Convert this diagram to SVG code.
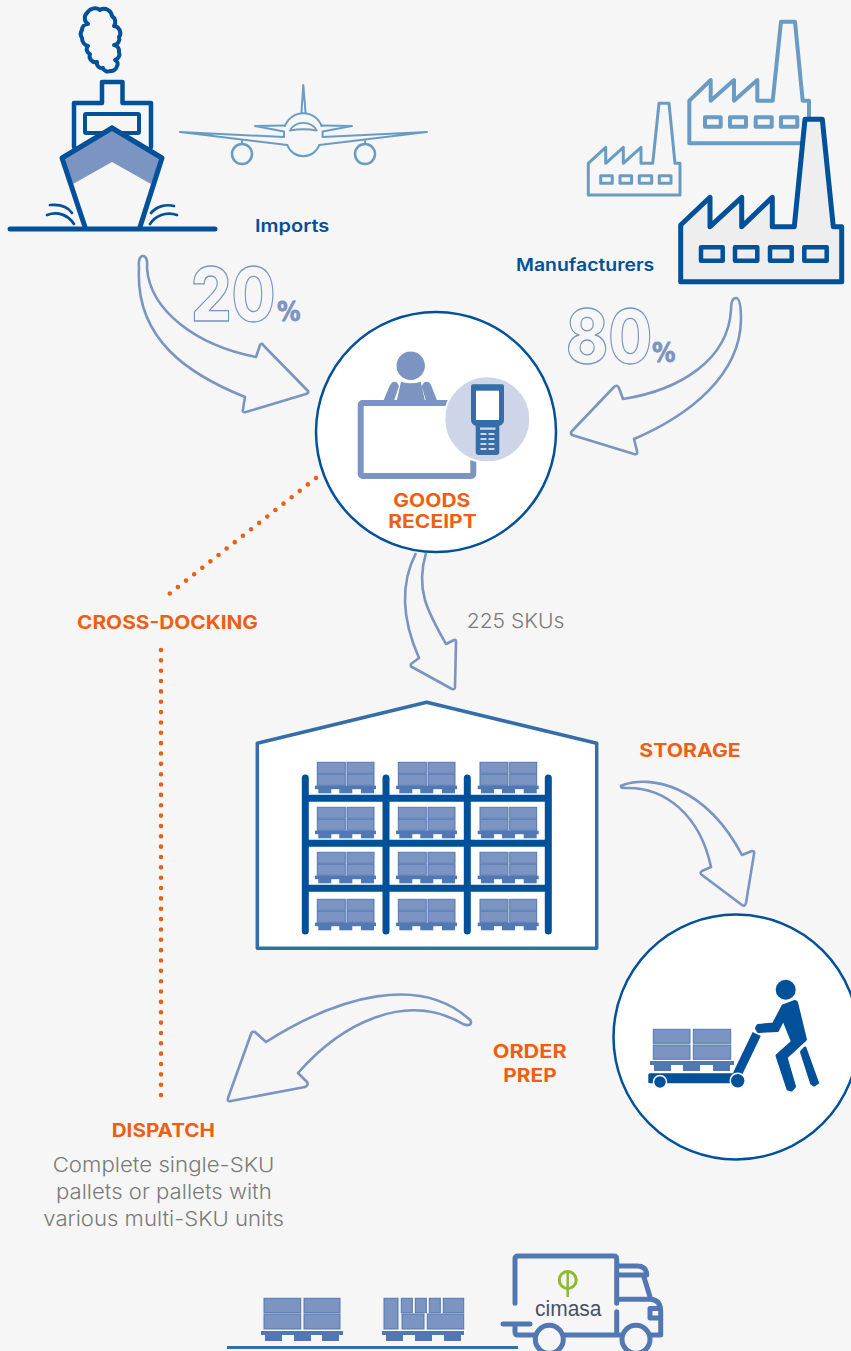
<svg xmlns="http://www.w3.org/2000/svg" xmlns:xlink="http://www.w3.org/1999/xlink" width="851" height="1351" viewBox="0 0 851 1351">
<style>
.dk{fill:none;stroke:#00509a;stroke-linejoin:round;stroke-linecap:round}
.lt{fill:none;stroke:#6a9cc3;stroke-linejoin:round;stroke-linecap:round}
.arrow{fill:none;stroke:#7b94c2;stroke-width:2.6;stroke-linejoin:round}
.dot{fill:none;stroke:#ee5f14;stroke-width:4.6;stroke-linecap:round;stroke-dasharray:0 10.35}
.box{fill:#7b94c2;stroke:#5278b3;stroke-width:1}
.wood{fill:#5278b3}
.tr{fill:none;stroke:#5278b3;stroke-width:5;stroke-linejoin:round;stroke-linecap:round}
text{font-family:Inter,"Liberation Sans",sans-serif}
.or{fill:#ee5f14;font-weight:700;font-size:18.5px}
.bl{fill:#00509a;font-weight:600;font-size:17px}
.gr{fill:#7a7a7a;font-weight:300;font-size:20.5px}
.num{fill:none;stroke:#7b94c2;stroke-width:1.3;font-weight:800;font-size:74px}
.pc{fill:#7b94c2;stroke:#7b94c2;stroke-width:.8;font-weight:700;font-size:27px;font-family:"DejaVu Sans",sans-serif}
</style>
<defs>
<g id="pallet">
<rect class="box" x="0" y="0" width="28" height="11"/><rect class="box" x="29.7" y="0" width="27" height="11"/>
<rect class="box" x="0" y="12" width="28" height="11"/><rect class="box" x="29.7" y="12" width="27" height="11"/>
<rect class="wood" x="-2.3" y="23.3" width="61" height="3.6"/>
<rect class="wood" x="1" y="26.5" width="13" height="4.5"/><rect class="wood" x="22" y="26.5" width="13" height="4.5"/><rect class="wood" x="43.7" y="26.5" width="13" height="4.5"/>
</g>
</defs>
<rect width="851" height="1351" fill="#f6f6f6"/>

<g id="connectors">
<path class="arrow" d="M139 268Q138 256 143 256Q148 256 147 268C150 310 195 345 256 357L260 345Q262 342 264 346L308 391Q309 393 306 394L246 412Q242 413 243 409L245 397C190 375 135 340 139 268Z"/>
<path class="arrow" d="M731 310Q731 298 736 298Q741 298 741 320C740 375 690 415 634 439L637 451Q638 455 634 454L572 435Q570 433 572 431L614 387Q617 384 619 388L623 399C680 390 728 360 731 310Z"/>
<path class="arrow" d="M416 553C402 580 400 615 419 658L411 664Q410 666 412 667L452 689Q455 690 455 687L456 642Q456 639 454 640L446 644C428 612 415 590 426 553"/>
<path class="arrow" d="M623 785C650 775 705 785 742 855L752 851Q755 851 754 854L746 903Q745 907 742 905L702 875Q699 873 702 871L711 867C700 815 665 787 626 788Q620 788 621 786Z"/>
<path class="arrow" d="M469 1019C420 975 340 995 266 1042L255 1032Q252 1031 251 1034L228 1098Q227 1102 231 1101L305 1087Q309 1085 307 1082L298 1073C340 1025 405 990 463 1024Q471 1027 471 1022Q471 1020 469 1019Z"/>
<path class="dot" d="M316 478L164 598"/>
<path class="dot" d="M161 650V1095.500"/>
</g>

<g id="ship">
<path class="dk" stroke-width="4" d="M88 24A7 7 0 0 1 87 13A9 9 0 0 1 100 10A8 8 0 0 1 112 16A7 7 0 0 1 114 26A7 7 0 0 1 119 37A6 6 0 0 1 114 45A6 6 0 0 1 119 52A6 6 0 0 1 115 60A4 4 0 0 1 117 66A6 6 0 0 1 110 71A5 5 0 0 1 103 68A5 5 0 0 1 97 62A6 6 0 0 1 90 54A5 5 0 0 1 88 46A8 8 0 0 1 82 38A7 7 0 0 1 82 30A6 6 0 0 1 88 24Z"/>
<path class="dk" stroke-width="4.5" d="M74 147V103H102V82H122.500V103H151V147"/>
<rect class="dk" stroke-width="4" x="85" y="114" width="54" height="19" rx="1"/>
<path fill="#f6f6f6" d="M112 128L162 158L140 227H85L62 158Z"/>
<path fill="#7b94c2" d="M112 128L162 158L151 184L112 162L73 184L62 158Z"/>
<path class="dk" stroke-width="5" d="M112 128L162 158L140 227M85 227L62 158L112 128"/>
<path class="dk" stroke-width="2.700" d="M50 205C60 204 68 207 72 213M47 215C58 211 68 215 74 224M151 213C157 206 166 204 174 206M150 224C155 216 166 211 177 215"/>
<path class="dk" stroke-width="5" d="M10 229H215"/>
</g>

<g id="plane">
<path class="lt" stroke-width="2" d="M301.500 112L303.300 85L305.500 112M285 126A19.500 19.500 0 0 1 321.600 126M287.300 145A17 17 0 0 0 319.300 145"/>
<path class="lt" stroke-width="2" d="M285 125.500L255 126L284 131.500V137L180 132L287.300 145M321.600 125.500L352 126L322.600 131.500V137L427 132L319.300 145"/>
<path class="lt" stroke-width="1.800" d="M290 130.500A14 11 0 0 1 316.700 130.500Q303.300 128 290 130.500Z"/>
<circle class="lt" stroke-width="2.500" cx="242" cy="154" r="10"/><circle class="lt" stroke-width="2.500" cx="365" cy="154" r="10"/>
<path class="lt" stroke-width="2" d="M242 144V141M365 144V141"/>
</g>

<g id="factories">
<g class="lt" stroke-width="3">
<path d="M588.300 195V163.300L605.700 147.300V163.300L623.300 147.300V163.300L641 147.300V163.300H652.700L659 103.300H669L675 163.300H680V195Z"/>
<rect x="600.700" y="175.700" width="11.600" height="7.600"/><rect x="620" y="175.700" width="11.600" height="7.600"/><rect x="639.300" y="175.700" width="12.400" height="7.600"/><rect x="659.300" y="175.700" width="11.700" height="7.600"/>
</g>
<g class="lt" stroke-width="4">
<path d="M689.300 143.300V100.700L710.700 80V100.700L734 80V100.700L757.300 80V100.700H772.700L781 21.700H795L802.700 100.700H809V143.300Z"/>
<rect x="705" y="117.300" width="15.700" height="9.400"/><rect x="730" y="117.300" width="16" height="9.400"/><rect x="755.700" y="117.300" width="16" height="9.400"/><rect x="781" y="117.300" width="16.300" height="9.400"/>
</g>
<path class="dk" stroke-width="5" style="fill:#eeeeef" d="M680.700 281.700V225L710 197.300V226.700L741.700 197.300V226.700L772.300 197.300V226.700H794.300L805 119.300H822.300L833.300 226.700H841.700V281.700Z"/>
<g class="dk" stroke-width="4.500">
<rect x="701" y="247.300" width="21.700" height="13.400"/><rect x="735" y="247.300" width="22.300" height="13.400"/><rect x="770" y="247.300" width="21.700" height="13.400"/><rect x="804.300" y="247.300" width="22.400" height="13.400"/>
</g>
</g>

<g id="goods-receipt">
<circle cx="436" cy="432" r="120" fill="#fff" stroke="#00509a" stroke-width="2.500"/>
<circle cx="410.700" cy="365.700" r="14.200" fill="#7b94c2"/>
<path fill="#7b94c2" d="M383.300 401L390 385Q393 380 397 382.500L399 386L394 401ZM396.700 401L401 381.700Q411 385 420.700 381.700L425 401ZM426 401L421.700 386L424 382.500Q429 380 431 385L437.300 401Z"/>
<rect x="360.700" y="403" width="112.600" height="73" rx="2" fill="none" stroke="#7b94c2" stroke-width="6"/>
<circle cx="487.300" cy="419.300" r="43" fill="#ced5e8" stroke="#fff" stroke-width="2"/>
<path fill="#356da9" d="M473 384.300H502Q504 384.300 504 386.300V420Q504 424 499.300 426V452Q499.300 455 496.300 455H478.700Q475.700 455 475.700 452V426Q471 424 471 420V386.300Q471 384.300 473 384.300Z"/>
<rect x="476" y="390.700" width="23" height="29.300" fill="#fff"/>
<g fill="#ced5e8"><rect x="480" y="427.500" width="15.500" height="2.300"/><rect x="480.500" y="433" width="6" height="2"/><rect x="488.500" y="433" width="6" height="2"/><rect x="480.500" y="438" width="6" height="2"/><rect x="488.500" y="438" width="6" height="2"/><rect x="480.500" y="443" width="6" height="2"/><rect x="488.500" y="443" width="6" height="2"/><rect x="480.500" y="448" width="6" height="2"/><rect x="488.500" y="448" width="6" height="2"/></g>
<text class="or" x="393.300" y="506.700" textLength="77" lengthAdjust="spacingAndGlyphs">GOODS</text>
<text class="or" x="388.300" y="527.500" textLength="88.400" lengthAdjust="spacingAndGlyphs">RECEIPT</text>
</g>

<g id="warehouse">
<path fill="#fff" stroke="#356da9" stroke-width="3.500" stroke-linejoin="round" d="M257.300 743.300L426.700 702.300L596.700 743.300V948.300H257.300Z"/>
<use href="#pallet" x="317.300" y="762.300"/><use href="#pallet" x="398.300" y="762.300"/><use href="#pallet" x="480" y="762.300"/>
<use href="#pallet" x="317.300" y="807.300"/><use href="#pallet" x="398.300" y="807.300"/><use href="#pallet" x="480" y="807.300"/>
<use href="#pallet" x="317.300" y="852.300"/><use href="#pallet" x="398.300" y="852.300"/><use href="#pallet" x="480" y="852.300"/>
<use href="#pallet" x="317.300" y="899.300"/><use href="#pallet" x="398.300" y="899.300"/><use href="#pallet" x="480" y="899.300"/>
<g stroke="#00509a" fill="none">
<path stroke-width="7" d="M305 798.300H549M305 843.300H549M305 888.300H549"/>
<path stroke-width="7" stroke-linecap="round" d="M305.300 778V931M386 778V931M467.300 778V931M548.300 778V931"/>
</g>
</g>

<g id="order-picker">
<circle cx="736" cy="1037" r="122.500" fill="#fff" stroke="#00509a" stroke-width="2.500"/>
<rect class="box" x="653.300" y="1029.300" width="36.700" height="14"/><rect class="box" x="693.300" y="1029.300" width="37.400" height="14"/>
<rect class="box" x="653.300" y="1045" width="36.700" height="14.300"/><rect class="box" x="693.300" y="1045" width="37.400" height="14.300"/>
<rect class="wood" x="650" y="1061" width="84" height="4"/>
<rect class="wood" x="654" y="1065" width="17" height="6"/><rect class="wood" x="683" y="1065" width="17" height="6"/><rect class="wood" x="713" y="1065" width="17" height="6"/>
<rect x="648.300" y="1073.300" width="90" height="10" rx="1.500" fill="#00509a"/>
<path d="M737 1075L756.700 1034" stroke="#00509a" stroke-width="9" fill="none"/>
<circle cx="660" cy="1082" r="6.500" fill="#00509a" stroke="#fff" stroke-width="1.500"/>
<circle cx="737.700" cy="1080.700" r="7.500" fill="#00509a" stroke="#fff" stroke-width="1.500"/>
<circle cx="785.700" cy="989.700" r="10" fill="#00509a"/>
<path fill="#00509a" stroke="#00509a" stroke-width="3" stroke-linejoin="round" d="M783 1006L795 1001.500L796.500 1002.500L805.500 1039.500L786 1057.500L794.500 1086.500L791.500 1090L788 1089L777 1055.700L792.500 1041.700L783.300 1019L777.500 1030.500L758.300 1031.500L756.500 1028.300L758 1025.500L773.500 1024Z"/>
<path fill="#00509a" stroke="#00509a" stroke-width="3" stroke-linejoin="round" d="M801.500 1052L805 1048L817.500 1082.700L814 1085L811.500 1083Z"/>
</g>

<g id="dispatch-load">
<rect class="box" x="264" y="1298.300" width="36.700" height="14.400"/><rect class="box" x="304" y="1298.300" width="36" height="14.400"/>
<rect class="box" x="264" y="1314" width="36.700" height="15"/><rect class="box" x="304" y="1314" width="36" height="15"/>
<rect class="wood" x="261" y="1331" width="82" height="4"/>
<rect class="wood" x="265" y="1335" width="17" height="6"/><rect class="wood" x="294" y="1335" width="17" height="6"/><rect class="wood" x="322" y="1335" width="17" height="6"/>
<rect class="box" x="384" y="1298.300" width="14" height="30.700"/>
<rect class="box" x="401.300" y="1298.300" width="11" height="14.400"/><rect class="box" x="415.300" y="1298.300" width="11" height="14.400"/><rect class="box" x="429.300" y="1298.300" width="11" height="14.400"/><rect class="box" x="443.300" y="1298.300" width="20.400" height="14.400"/>
<rect class="box" x="402" y="1314" width="22" height="15"/><rect class="box" x="427.300" y="1314" width="36.400" height="15"/>
<rect class="wood" x="382" y="1331" width="82" height="4"/>
<rect class="wood" x="386" y="1335" width="17" height="6"/><rect class="wood" x="415" y="1335" width="17" height="6"/><rect class="wood" x="444" y="1335" width="17" height="6"/>
<rect x="227" y="1346" width="291" height="3" fill="#356da9"/>
</g>

<g id="truck">
<path class="tr" d="M515 1303.300V1259Q515 1256 518 1256H614Q616.700 1256 616.700 1259V1303.300M616.700 1311.700V1335M563.300 1335H621.700M503 1324H530M515 1324V1332Q515 1335 518 1335H535"/>
<path class="tr" d="M618 1266H637Q646.700 1266 646.700 1275H618M643.300 1275L650 1296.700M618 1299.300H650Q660.700 1299.300 660.700 1312V1335H650.300"/>
<path class="tr" stroke-width="3" d="M660 1308.500H650V1318H660"/>
<circle class="tr" cx="549.300" cy="1339.300" r="14"/><circle class="tr" cx="636" cy="1339.300" r="14"/>
<circle cx="567.700" cy="1280" r="8.500" fill="none" stroke="#8dbb2f" stroke-width="3"/>
<path d="M567.700 1272V1297" stroke="#8dbb2f" stroke-width="2.500"/>
<text x="535" y="1316" font-size="22" fill="#4a4f66" textLength="66.500" lengthAdjust="spacingAndGlyphs" style="font-family:'Liberation Sans',sans-serif">cimasa</text>
</g>

<g id="labels">
<text class="bl" x="255" y="232" textLength="74.300" lengthAdjust="spacingAndGlyphs">Imports</text>
<text class="bl" x="516" y="271" textLength="138.300" lengthAdjust="spacingAndGlyphs">Manufacturers</text>
<text class="num" transform="translate(191 321) scale(.86 1)">20</text><text class="pc" x="277" y="321" textLength="23.500" lengthAdjust="spacingAndGlyphs">%</text>
<text class="num" transform="translate(566 363) scale(.86 1)">80</text><text class="pc" x="652" y="362" textLength="23.500" lengthAdjust="spacingAndGlyphs">%</text>
<text class="or" x="77" y="629" textLength="181" lengthAdjust="spacingAndGlyphs">CROSS-DOCKING</text>
<text class="gr" x="466.700" y="627.700" textLength="97.700" lengthAdjust="spacingAndGlyphs">225 SKUs</text>
<text class="or" x="639.300" y="756.500" textLength="101.400" lengthAdjust="spacingAndGlyphs">STORAGE</text>
<text class="or" x="492.700" y="1057.700" textLength="74" lengthAdjust="spacingAndGlyphs">ORDER</text>
<text class="or" x="503.300" y="1082" textLength="53.400" lengthAdjust="spacingAndGlyphs">PREP</text>
<text class="or" x="111.700" y="1136.700" textLength="103.300" lengthAdjust="spacingAndGlyphs">DISPATCH</text>
<text class="gr" x="52.700" y="1172.300" textLength="221.700" lengthAdjust="spacingAndGlyphs">Complete single-SKU</text>
<text class="gr" x="56" y="1199" textLength="215.700" lengthAdjust="spacingAndGlyphs">pallets or pallets with</text>
<text class="gr" x="43.300" y="1225.500" textLength="240.700" lengthAdjust="spacingAndGlyphs">various multi-SKU units</text>
</g>
</svg>
